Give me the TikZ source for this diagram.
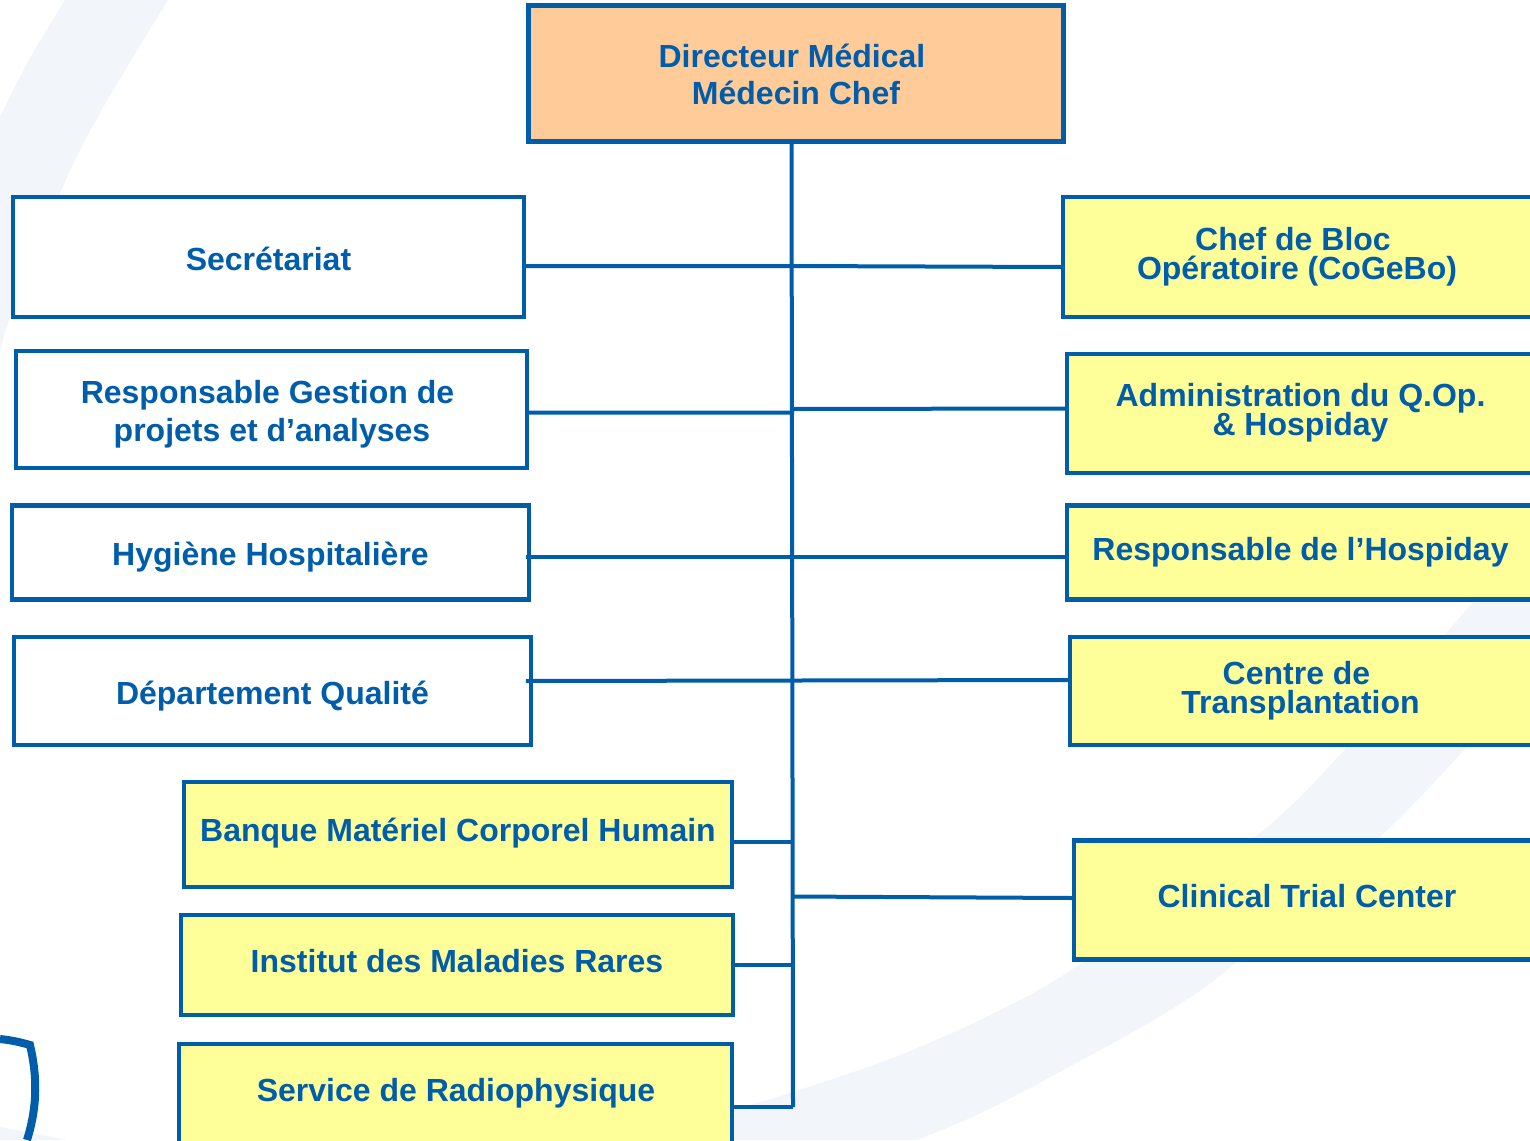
\documentclass[tikz,border=0pt]{standalone}
\usepackage{fontspec}
\setmainfont{Liberation Sans}
\definecolor{blu}{HTML}{005DAA}
\definecolor{yel}{HTML}{FFFF99}
\definecolor{ora}{HTML}{FFCC99}
\definecolor{swoosh}{HTML}{F2F6FB}
\tikzset{
 bx/.style={draw=blu,line width=4.1pt,inner sep=0pt},
 txt/.style={text=blu,font=\fontsize{32}{38}\selectfont\bfseries,align=center,inner sep=0pt},
 tight/.style={txt,font=\fontsize{32}{29}\selectfont\bfseries},
 wire/.style={draw=blu,line width=4pt}
}
\begin{document}
\begin{tikzpicture}[x=1pt,y=-1pt]
\useasboundingbox (0,0) rectangle (1530,1140);
\fill[white] (0,0) rectangle (1530,1140);
% background swooshes
\fill[swoosh] plot[smooth,tension=0.6] coordinates {(65,0) (30,58) (0,117)} -- (0,355)
  -- plot[smooth,tension=0.6] coordinates {(0,355) (10,318) (60,193) (100,113) (168,0)} -- cycle;
\fill[swoosh] plot[smooth,tension=0.6] coordinates {(1530,535) (1473,602) (1347,747) (1255,837) (1083,962) (1000,1010) (900,1055) (793,1092) (733,1110) (690,1125) (640,1140)}
  -- plot[smooth,tension=0.6] coordinates {(917,1140) (983,1112) (1067,1068) (1167,1012) (1237,962) (1380,837) (1467,747) (1530,680)} -- cycle;
\fill[swoosh] (0,1127) -- (67,1140) -- (0,1140) -- cycle;
% boxes
\node[bx,line width=5pt,fill=ora,minimum width=535pt,minimum height=136pt] (dir) at (796,73.3) {};
\node[txt] (dirT) at (792,74) {Directeur Médical\\[-1pt]\hspace*{8pt}Médecin Chef};
\node[bx,fill=white,minimum width=511pt,minimum height=119.5pt] (sec) at (268.5,257) {};
\node[txt] (secT) at (268.5,259) {Secrétariat};
\node[bx,fill=white,minimum width=511pt,minimum height=116.5pt] (rgp) at (271.5,409.5) {};
\node[txt] (rgpT) at (267.5,414) {Responsable Gestion de\\[0pt]\hspace*{9pt}projets et d’analyses};
\node[bx,fill=white,minimum width=516.5pt,minimum height=94pt] (hyg) at (270.5,552.5) {};
\node[txt] (hygT) at (270.5,557) {Hygiène Hospitalière};
\node[bx,fill=white,minimum width=516.5pt,minimum height=107.5pt] (dep) at (272.5,691) {};
\node[txt] (depT) at (272.5,696) {Département Qualité};
\node[bx,fill=yel,minimum width=548pt,minimum height=104.5pt] (bmc) at (458,834.5) {};
\node[txt] (bmcT) at (458,833.5) {Banque Matériel Corporel Humain};
\node[bx,fill=yel,minimum width=552pt,minimum height=100pt] (imr) at (457,965) {};
\node[txt] (imrT) at (457,961) {Institut des Maladies Rares};
\node[bx,fill=yel,minimum width=553pt,minimum height=120pt] (srp) at (455.5,1104) {};
\node[txt] (srpT) at (456,1093.5) {Service de Radiophysique};
\node[bx,fill=yel,minimum width=500pt,minimum height=119.5pt] (cbo) at (1313,257) {};
\node[tight] (cboT) at (1297,257) {\hspace*{-8pt}Chef de Bloc\\Opératoire (CoGeBo)};
\node[bx,fill=yel,minimum width=500pt,minimum height=118.5pt] (adm) at (1317,413.5) {};
\node[tight] (admT) at (1300.5,413) {Administration du Q.Op.\\[-2pt]\& Hospiday};
\node[bx,fill=yel,minimum width=500pt,minimum height=94pt] (rho) at (1317,552.5) {};
\node[txt] (rhoT) at (1300.5,552.5) {Responsable de l’Hospiday};
\node[bx,fill=yel,minimum width=500pt,minimum height=107.5pt] (ctr) at (1320,691) {};
\node[tight] (ctrT) at (1300.5,691) {\hspace*{-8pt}Centre de\\Transplantation};
\node[bx,fill=yel,minimum width=500pt,minimum height=119pt] (ctc) at (1324,900) {};
\node[txt] (ctcT) at (1307,896.5) {Clinical Trial Center};
% connectors
\coordinate (trunkTop) at (791.5,142);
\coordinate (trunkBot) at (793,1107);
\path[wire] (dir.south -| trunkTop) -- (trunkBot);
\path[wire] (sec.east |- 0,266) -- (791,266) -- (cbo.west |- 0,267);
\path[wire] ([xshift=-4pt]rgp.east |- 0,412.5) -- (792,412.5) -- (792,409) -- (adm.west |- 0,408.5);
\path[wire] ([xshift=-5pt]hyg.east |- 0,556.5) -- (rho.west |- 0,556.5);
\path[wire] ([xshift=-7pt]dep.east |- 0,681) -- (ctr.west |- 0,680);
\path[wire] (bmc.east |- 0,841.5) -- (793,841.5);
\path[wire] ([xshift=-3pt]imr.east |- 0,965) -- (793,965);
\path[wire] (srp.east |- trunkBot) -- (trunkBot);
\path[wire] (792,896.5) -- (ctc.west |- 0,898);
% partial shield outline
\draw[blu,line width=8pt,miter limit=10] (0,1039) .. controls (10,1040) and (20,1042) .. (30,1045) .. controls (37,1075) and (38,1105) .. (27,1140);
\end{tikzpicture}
\end{document}
